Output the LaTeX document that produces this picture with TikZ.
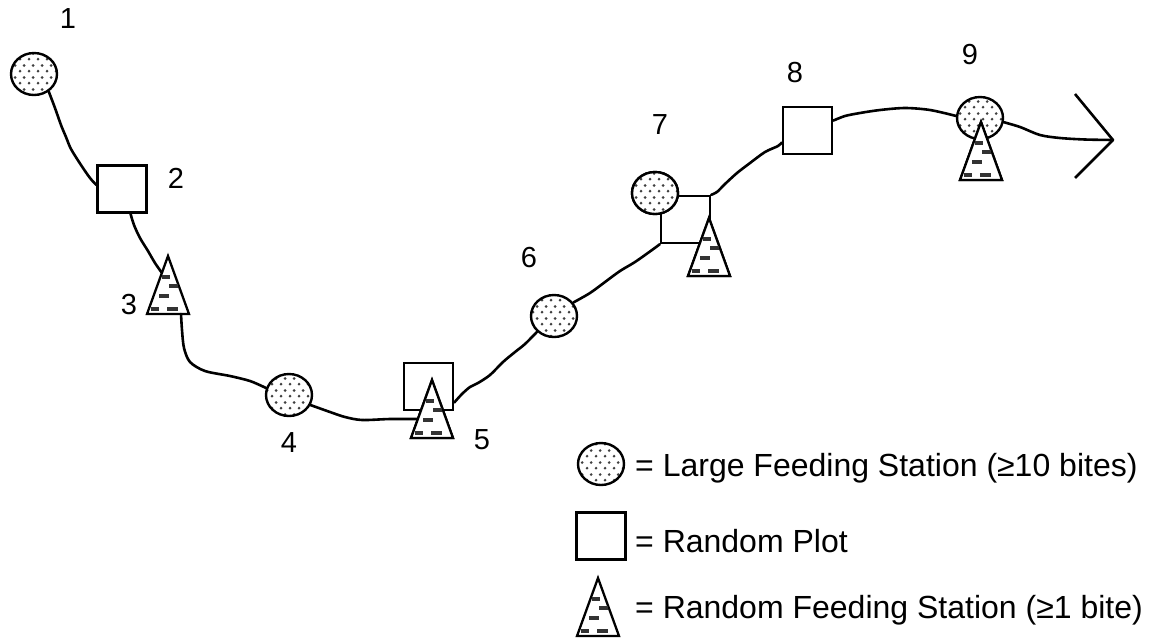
\documentclass[tikz,border=0pt]{standalone}
\usepackage{fontspec}
\setmainfont{Liberation Sans}
\usetikzlibrary{shapes.geometric,patterns.meta}

\tikzdeclarepattern{
  name=stipple,
  type=uncolored,
  bottom left={(0pt,0pt)},
  top right={(9pt,12pt)},
  tile size={(9pt,12pt)},
  code={
    \fill (2.25pt,3pt) circle (1.6pt);
    \fill (6.75pt,9pt) circle (1.6pt);
  }
}

\tikzset{
  station/.style={ellipse, draw, line width=2.4, minimum width=46, minimum height=42,
    inner sep=0, preaction={fill=white}, pattern=stipple, pattern color=black!75},
  plotbox/.style={rectangle, draw, line width=2.4, fill=white, minimum width=49,
    minimum height=47, inner sep=0},
  trail/.style={line width=2.6, line join=round, line cap=round},
  dashmark/.style={line width=3.2, black!80},
  lbl/.style={font=\fontsize{29}{31}\selectfont, inner sep=0},
  legtext/.style={font=\fontsize{32}{35}\selectfont, inner sep=0, anchor=base west},
  pics/feedtri/.style={code={
    \draw[line width=2.3, fill=white, line join=miter]
      (0,0) coordinate (-apex) -- (-21,58) coordinate (-bl) -- (21,58) coordinate (-br) -- cycle;
    \draw[dashmark] (-6,21) -- (2,21);
    \draw[dashmark] (1,30) -- (10,30);
    \draw[dashmark] (-9,40) -- (1,40);
    \draw[dashmark] (-17,53) -- (-9,53);
    \draw[dashmark] (-1,53) -- (10,53);
    \coordinate (-l1) at (-6,17);
    \coordinate (-l2) at (-14,39);
    \coordinate (-b) at (13,58);
  }}
}

\begin{document}
\begin{tikzpicture}[x=1pt,y=-1pt]
\useasboundingbox (0,0) rectangle (1155,638);

% stations and plots
\node[station] (c1) at (34,74) {};
\node[plotbox] (s2) at (122,189) {};
\node[station] (c4) at (289,395) {};
\node[plotbox] (s5) at (428.5,386.5) {};
\node[station] (c6) at (554,316) {};
\node[plotbox] (s7) at (685.5,219.5) {};
\node[station] (c7) at (655,193) {};
\node[plotbox] (s8) at (807.5,130.5) {};
\node[station] (c9) at (980,118) {};

\pic (t3) at (168,256) {feedtri};
\pic (t5) at (432,380) {feedtri};
\pic (t7) at (709,218) {feedtri};
\pic (t9) at (981,122) {feedtri};

% arrow head at the end of the trail
\coordinate (tip) at (1113,140);
\coordinate (chevtop) at (1075,94);
\coordinate (chevbot) at (1075,178);
\draw[trail, line cap=butt] (chevtop) -- (tip) -- (chevbot);

% trail
\draw[trail] plot[smooth, tension=0.5] coordinates {(c1.-50) (55,108) (61,125) (66,137) (71,149) (81,165) (90,178) (s2.171)};
\draw[trail] plot[smooth, tension=0.5] coordinates {(s2.-71) (134,225) (140,238) (148,251) (155,263) (t3-l1)};
\draw[trail] plot[smooth, tension=0.5] coordinates {(t3-b) (182,330) (184,348) (190,362) (205,371) (230,376) (250,381) (c4.163)};
\draw[trail] plot[smooth, tension=0.5] coordinates {(c4.-25) (330,412) (345,417) (362,420) (390,419) (t5-l2)};
\draw[trail] plot[smooth, tension=0.5] coordinates {(s5.-32) (462,394) (470,387) (478,383) (490,375) (503,362) (515,352) (525,344) (c6.-137)};
\draw[trail] plot[smooth, tension=0.5] coordinates {(c6.35) (590,293) (605,282) (620,271) (635,262) (652,250) (s7.south west)};
\draw[trail] plot[smooth, tension=0.5] coordinates {(s7.north east) (717,192) (725,184) (737,173) (750,163) (765,152) (778,146) (s8.205)};
\draw[trail] plot[smooth, tension=0.5] coordinates {(s8.21) (845,116) (860,113) (880,110) (905,108) (930,110) (c9.175)};
\draw[trail] plot[smooth, tension=0.5] coordinates {(c9.-10) (1020,127) (1040,135) (1060,138) (1085,139.5) (tip)};

% redraw overlapping shapes on top
\node[station] at (c7) {};
\pic at (709,218) {feedtri};
\pic at (432,380) {feedtri};
\pic at (981,122) {feedtri};

% labels
\node[lbl] (n1) at (68,19) {1};
\node[lbl] (n2) at (176,178) {2};
\node[lbl] (n3) at (129,305) {3};
\node[lbl] (n4) at (289,443) {4};
\node[lbl] (n5) at (482,440) {5};
\node[lbl] (n6) at (529,258) {6};
\node[lbl] (n7) at (660,125) {7};
\node[lbl] (n8) at (795,73) {8};
\node[lbl] (n9) at (970,55) {9};

% legend
\node[station] (lc) at (601,464) {};
\node[legtext] (lt1) at (635,476) {= Large Feeding Station (≥10 bites)};
\node[plotbox] (lp) at (601,536) {};
\node[legtext] (lt2) at (635,552) {= Random Plot};
\pic (lf) at (598,578) {feedtri};
\node[legtext] (lt3) at (635,618) {= Random Feeding Station (≥1 bite)};
\end{tikzpicture}
\end{document}
